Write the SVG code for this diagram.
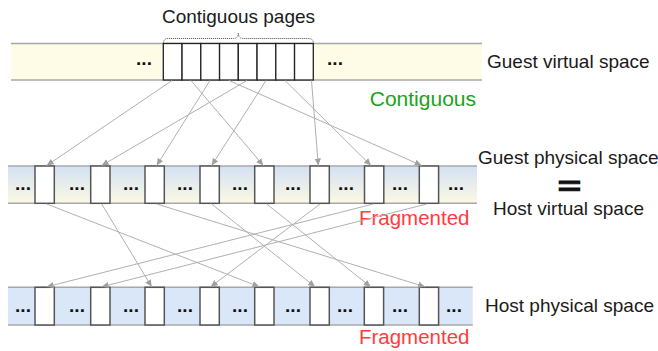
<svg xmlns="http://www.w3.org/2000/svg" width="658" height="351" viewBox="0 0 658 351">
<style>
.lbl{font-family:"Liberation Sans",Arial,sans-serif;font-size:19px;fill:#1a1a1a}
.dots{font-family:"Liberation Sans",Arial,sans-serif;font-size:19px;font-weight:bold;fill:#111;text-anchor:middle}
.green{font-family:"Liberation Sans",Arial,sans-serif;font-size:21px;fill:#1aa31a;text-anchor:end}
.red{font-family:"Liberation Sans",Arial,sans-serif;font-size:20.5px;fill:#ff3b3b;text-anchor:end}
.page{fill:#fff;stroke:#222;stroke-width:1.3}
.box{fill:#fff;stroke:#555;stroke-width:1.5}
.edge{stroke:#b0b0b0;stroke-width:1;fill:none;marker-end:url(#ah)}
.border{stroke:#a8a8a8;stroke-width:1.5}
</style>
<defs>
<marker id="ah" markerWidth="8" markerHeight="8" refX="7" refY="4" orient="auto" markerUnits="userSpaceOnUse">
<path d="M0,0.8 L7,4 L0,7.2 Z" fill="#a0a0a0"/>
</marker>
<linearGradient id="gmid" x1="0" y1="0" x2="0" y2="1">
<stop offset="0" stop-color="#d3e1f4"/>
<stop offset="1" stop-color="#fcf9e4"/>
</linearGradient>
</defs>
<rect width="658" height="351" fill="#fff"/>

<g id="guest-virtual">
<rect x="11" y="43.5" width="471" height="36.5" fill="#fefbe6"/>
<line class="border" x1="11" y1="43.5" x2="482" y2="43.5"/>
<line class="border" x1="11" y1="80" x2="482" y2="80"/>
<text class="dots" x="144" y="65">...</text>
<text class="dots" x="335" y="65">...</text>
<rect class="page" x="163.3" y="43.5" width="18.75" height="36.5"/>
<rect class="page" x="182.05" y="43.5" width="18.75" height="36.5"/>
<rect class="page" x="200.8" y="43.5" width="18.75" height="36.5"/>
<rect class="page" x="219.55" y="43.5" width="18.75" height="36.5"/>
<rect class="page" x="238.3" y="43.5" width="18.75" height="36.5"/>
<rect class="page" x="257.05" y="43.5" width="18.75" height="36.5"/>
<rect class="page" x="275.8" y="43.5" width="18.75" height="36.5"/>
<rect class="page" x="294.55" y="43.5" width="18.75" height="36.5"/>
<path d="M163.5,43 Q163.5,38.5 168,38.5 L233.5,38.5 Q238.3,38.5 238.3,33 Q238.3,38.5 243,38.5 L308.5,38.5 Q313.3,38.5 313.3,43" fill="none" stroke="#555" stroke-width="0.9" stroke-dasharray="1.2,0.8"/>
<text class="lbl" x="238.5" y="22.5" text-anchor="middle">Contiguous pages</text>
<text class="lbl" x="487" y="67.5">Guest virtual space</text>
<text class="green" x="476" y="106">Contiguous</text>
</g>

<g id="guest-physical">
<rect x="8" y="166" width="469" height="37.3" fill="url(#gmid)"/>
<line class="border" x1="8" y1="166" x2="477" y2="166"/>
<line class="border" x1="8" y1="203.3" x2="477" y2="203.3"/>
<text class="dots" x="23" y="190">...</text>
<text class="dots" x="77" y="190">...</text>
<text class="dots" x="131" y="190">...</text>
<text class="dots" x="185" y="190">...</text>
<text class="dots" x="240" y="190">...</text>
<text class="dots" x="293" y="190">...</text>
<text class="dots" x="346" y="190">...</text>
<text class="dots" x="400" y="190">...</text>
<text class="dots" x="456" y="190">...</text>
<rect class="box" x="35" y="166" width="19.3" height="37.3"/>
<rect class="box" x="90.7" y="166" width="19.3" height="37.3"/>
<rect class="box" x="145" y="166" width="19.3" height="37.3"/>
<rect class="box" x="200" y="166" width="19.3" height="37.3"/>
<rect class="box" x="254.7" y="166" width="19.3" height="37.3"/>
<rect class="box" x="310" y="166" width="19.3" height="37.3"/>
<rect class="box" x="364.5" y="166" width="19.3" height="37.3"/>
<rect class="box" x="419.3" y="166" width="19.3" height="37.3"/>
<text class="lbl" x="478" y="163.5">Guest physical space</text>
<text transform="translate(569.5,194.5) scale(1.6,1)" x="0" y="0" font-family="Liberation Sans,Arial,sans-serif" font-size="25" font-weight="bold" fill="#111" stroke="#111" stroke-width="0.9" text-anchor="middle">=</text>
<text class="lbl" x="493" y="215">Host virtual space</text>
<text class="red" x="469.5" y="225">Fragmented</text>
</g>

<g id="host-physical">
<rect x="8" y="287.3" width="464.7" height="37.7" fill="#d9e7f8"/>
<line class="border" x1="8" y1="287.3" x2="472.7" y2="287.3"/>
<line class="border" x1="8" y1="325" x2="472.7" y2="325"/>
<text class="dots" x="23" y="311.5">...</text>
<text class="dots" x="77" y="311.5">...</text>
<text class="dots" x="131" y="311.5">...</text>
<text class="dots" x="185" y="311.5">...</text>
<text class="dots" x="240" y="311.5">...</text>
<text class="dots" x="293" y="311.5">...</text>
<text class="dots" x="345" y="311.5">...</text>
<text class="dots" x="400" y="311.5">...</text>
<text class="dots" x="454" y="311.5">...</text>
<rect class="box" x="35" y="287.3" width="19.3" height="37.7"/>
<rect class="box" x="90.7" y="287.3" width="19.3" height="37.7"/>
<rect class="box" x="145" y="287.3" width="19.3" height="37.7"/>
<rect class="box" x="200" y="287.3" width="19.3" height="37.7"/>
<rect class="box" x="254.7" y="287.3" width="19.3" height="37.7"/>
<rect class="box" x="310" y="287.3" width="19.3" height="37.7"/>
<rect class="box" x="364.3" y="287.3" width="19.3" height="37.7"/>
<rect class="box" x="419.3" y="287.3" width="19.3" height="37.7"/>
<text class="lbl" x="485" y="311.7">Host physical space</text>
<text class="red" x="469.5" y="343.5">Fragmented</text>
</g>

<g id="connectors">
<line class="edge" x1="172" y1="80.5" x2="46.7" y2="165.5"/>
<line class="edge" x1="191" y1="80.5" x2="263.3" y2="165.5"/>
<line class="edge" x1="210" y1="80.5" x2="156.7" y2="165.5"/>
<line class="edge" x1="229" y1="80.5" x2="421.7" y2="165.5"/>
<line class="edge" x1="247" y1="80.5" x2="101.7" y2="165.5"/>
<line class="edge" x1="266" y1="80.5" x2="211.7" y2="165.5"/>
<line class="edge" x1="285" y1="80.5" x2="371" y2="165.5"/>
<line class="edge" x1="311.5" y1="80.5" x2="318.3" y2="165.5"/>
<line class="edge" x1="46.7" y1="204" x2="259.3" y2="286.8"/>
<line class="edge" x1="101.7" y1="204" x2="151.7" y2="286.8"/>
<line class="edge" x1="156.7" y1="204" x2="425" y2="286.8"/>
<line class="edge" x1="211.7" y1="204" x2="315" y2="286.8"/>
<line class="edge" x1="266.7" y1="204" x2="370.7" y2="286.8"/>
<line class="edge" x1="320" y1="204" x2="210.7" y2="286.8"/>
<line class="edge" x1="373.3" y1="204" x2="46.7" y2="286.8"/>
<line class="edge" x1="426.7" y1="204" x2="101.7" y2="286.8"/>
</g>
</svg>
